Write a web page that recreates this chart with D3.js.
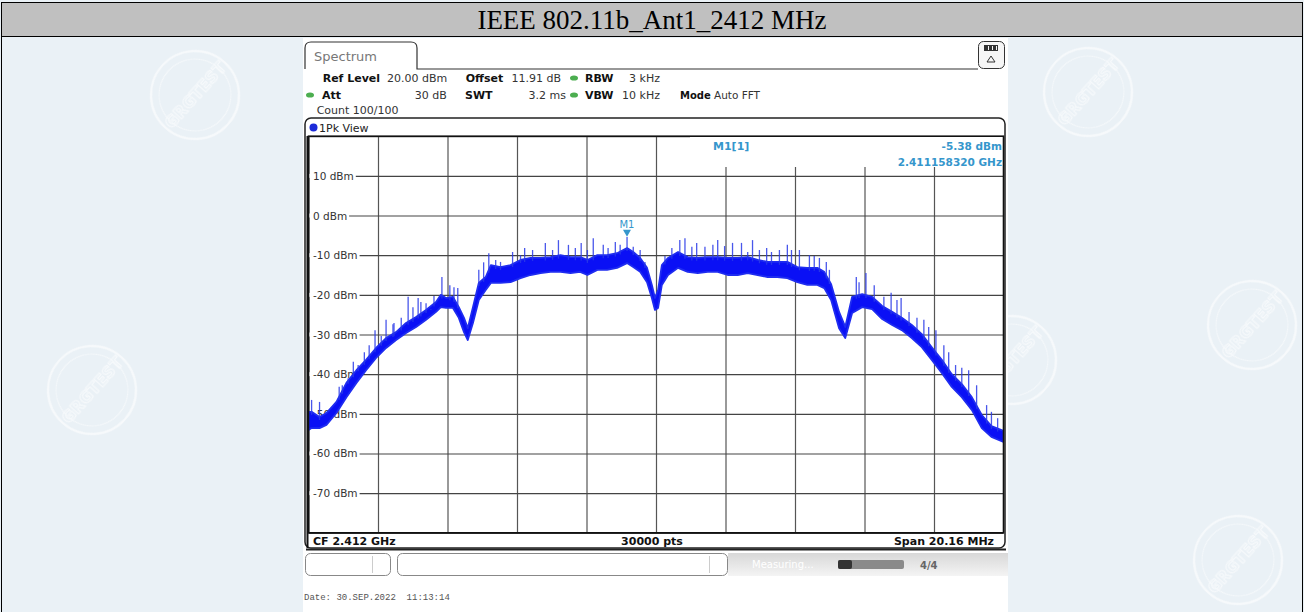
<!DOCTYPE html>
<html>
<head>
<meta charset="utf-8">
<script src="https://cdn.jsdelivr.net/npm/d3@7"></script>
<style>
html, body { margin: 0; padding: 0; background: #eaf1f6; }
svg { display: block; }
</style>
</head>
<body>
<svg id="chart" width="1304" height="612"></svg>
<script>
var title = "IEEE 802.11b_Ant1_2412 MHz";

// trace envelope (offset from CF in MHz, dBm)
var freqMHz = [-10.08,-9.99,-9.76,-9.56,-9.27,-8.98,-8.69,-8.41,-8.12,-7.83,
  -7.54,-7.25,-6.96,-6.67,-6.38,-6.24,-6.09,-5.89,-5.72,-5.57,
  -5.46,-5.31,-5.14,-4.94,-4.79,-4.51,-4.22,-3.93,-3.64,-3.35,
  -3.06,-2.77,-2.48,-2.20,-1.99,-1.70,-1.42,-1.13,-0.84,-0.66,
  -0.46,-0.26,-0.12,-0.03,0.06,0.17,0.35,0.64,0.92,1.21,
  1.50,1.79,2.08,2.37,2.66,2.95,3.24,3.52,3.81,4.10,
  4.39,4.68,4.88,5.08,5.31,5.49,5.69,5.98,6.27,6.56,
  6.85,7.13,7.42,7.71,8.00,8.29,8.58,8.87,9.16,9.45,
  9.73,10.08];
var traceHi = [-49.5,-49.5,-50.8,-49.8,-47.0,-42.2,-39.0,-36.4,-33.4,-30.9,
  -29.4,-27.1,-25.6,-23.8,-21.8,-20.0,-20.8,-20.5,-23.1,-25.8,
  -28.4,-23.1,-17.0,-15.5,-12.5,-13.0,-12.5,-11.2,-10.7,-10.7,
  -10.5,-10.0,-10.5,-10.5,-11.2,-10.0,-10.0,-9.5,-8.2,-9.2,
  -10.7,-13.2,-17.5,-20.8,-18.8,-12.5,-10.7,-9.2,-10.5,-10.7,
  -10.5,-10.5,-10.7,-10.7,-10.5,-11.2,-11.7,-11.7,-11.7,-13.0,
  -13.2,-13.2,-14.2,-17.3,-24.3,-28.1,-20.5,-19.8,-20.5,-22.8,
  -24.3,-25.8,-27.6,-29.9,-33.2,-36.4,-40.0,-42.5,-45.8,-50.3,
  -53.1,-54.3];
var traceLo = [-54.1,-53.6,-53.6,-52.8,-49.8,-45.8,-42.2,-39.0,-35.9,-33.4,
  -31.4,-29.6,-28.1,-26.3,-24.3,-23.1,-23.3,-23.3,-25.8,-29.4,
  -31.4,-27.1,-21.3,-18.8,-17.0,-17.0,-16.8,-15.8,-15.0,-14.5,
  -14.2,-14.2,-14.5,-14.2,-15.0,-13.7,-13.7,-13.2,-12.0,-13.0,
  -14.2,-16.8,-20.8,-23.8,-23.3,-17.5,-15.0,-13.2,-14.2,-14.5,
  -14.2,-14.2,-15.0,-15.0,-14.5,-15.0,-15.5,-15.5,-15.8,-16.8,
  -17.5,-17.5,-18.3,-21.3,-28.4,-30.9,-24.6,-23.1,-23.6,-26.1,
  -27.6,-28.9,-30.9,-33.2,-36.4,-39.7,-43.2,-45.8,-49.0,-53.6,
  -55.8,-57.1];

// noise spikes standing above the band
var spikeMHz = [-9.99,-9.76,-9.19,-8.78,-8.64,-8.15,-7.83,-7.60,-7.19,-7.05,
  -6.82,-6.53,-6.21,-5.75,-5.14,-4.85,-4.16,-3.81,-3.21,-2.83,
  -2.54,-2.17,-1.82,-1.18,-0.84,-0.66,0.84,1.18,1.79,2.22,
  2.80,3.21,3.81,4.16,4.74,4.94,5.81,6.09,6.82,7.11,
  7.77,8.12,8.69,9.07,9.73,
  -9.10,-8.93,-8.46,-8.32,-7.97,-7.63,-7.39,-6.90,-6.67,-6.44,
  -5.98,-5.86,-5.00,-4.65,-4.51,-3.93,-3.58,-3.00,-2.34,-1.99,
  -1.53,-1.39,-1.04,-0.46,-0.32,0.26,0.46,0.69,1.04,1.42,
  1.65,1.99,2.48,2.66,3.00,3.35,3.58,3.93,4.45,4.59,
  5.03,5.89,6.33,6.61,6.99,7.34,7.57,7.91,8.35,8.49,
  8.87,9.30,9.59,9.91];
var spikeDbm = [-46.5,-47.0,-43.2,-36.9,-37.7,-28.9,-26.3,-27.1,-20.5,-23.1,
  -21.8,-23.8,-15.5,-18.3,-13.7,-9.5,-9.2,-8.2,-6.9,-6.2,
  -7.4,-6.9,-5.7,-6.7,-5.4,-7.9,-5.7,-6.9,-6.2,-6.9,
  -6.2,-8.2,-7.4,-8.7,-10.7,-11.7,-15.5,-14.5,-19.5,-20.8,
  -26.3,-28.9,-37.7,-39.0,-49.5,
  -42.8,-41.0,-34.5,-32.7,-30.4,-27.4,-25.8,-20.8,-22.1,-20.3,
  -17.6,-18.1,-11.8,-11.2,-11.7,-10.0,-8.7,-8.7,-8.2,-8.7,
  -7.4,-8.2,-7.4,-8.7,-11.7,-10.2,-8.2,-6.2,-7.9,-7.9,
  -7.4,-7.7,-6.9,-9.2,-8.7,-9.2,-8.7,-8.7,-10.0,-10.2,
  -13.7,-16.8,-17.6,-20.5,-21.3,-24.3,-25.8,-28.1,-32.7,-34.5,
  -38.4,-42.8,-47.8,-51.1];

var yTicks = [10, 0, -10, -20, -30, -40, -50, -60, -70];
var markerMHz = -0.84168, markerDbm = -5.38;
var markerText = ["M1[1]", "-5.38 dBm", "2.411158320 GHz"];

var svg = d3.select("#chart");
var sans = "DejaVu Sans, Verdana, sans-serif";

// page / table, faint stamps in the background
var stamps = [[195, 95], [1088, 92], [1252, 325], [92, 390], [1012, 360], [1238, 560]];
var wm = svg.append("g").attr("opacity", 0.6);
stamps.forEach(function (p) {
  var g = wm.append("g").attr("transform", "translate(" + p[0] + "," + p[1] + ") rotate(-48)");
  g.append("circle").attr("r", 44).attr("fill", "none").attr("stroke", "#ffffff").attr("stroke-width", 2.2);
  g.append("circle").attr("r", 36).attr("fill", "none").attr("stroke", "#ffffff").attr("stroke-width", 1);
  g.append("text").attr("text-anchor", "middle").attr("y", 6).attr("font-family", sans)
    .attr("font-weight", "bold").attr("font-size", 16).attr("fill", "none")
    .attr("stroke", "#ffffff").attr("stroke-width", 1.2).text("GRGTEST");
});

svg.append("rect").attr("x", 1.5).attr("y", 2.5).attr("width", 1301).attr("height", 34)
  .attr("fill", "#c0c0c0").attr("stroke", "#000");
svg.append("line").attr("x1", 1.5).attr("x2", 1.5).attr("y1", 2).attr("y2", 612).attr("stroke", "#000");
svg.append("line").attr("x1", 1302.5).attr("x2", 1302.5).attr("y1", 2).attr("y2", 612).attr("stroke", "#000");
svg.append("text").attr("x", 652).attr("y", 29).attr("text-anchor", "middle")
  .attr("font-family", "Liberation Serif, Times New Roman, serif").attr("font-size", 27)
  .attr("fill", "#000").text(title);

// screen shot
var scr = svg.append("g");
scr.append("rect").attr("x", 303).attr("y", 38).attr("width", 705).attr("height", 574).attr("fill", "#fff");

scr.append("path").attr("d", "M305,69 V48 Q305,42 311,42 H411 Q417,42 417,48 V69 H978")
  .attr("fill", "none").attr("stroke", "#333").attr("stroke-width", 1.2);
scr.append("text").attr("x", 314).attr("y", 61).attr("font-family", sans).attr("font-size", 13)
  .attr("fill", "#777").text("Spectrum");
scr.append("rect").attr("x", 978.5).attr("y", 41.5).attr("width", 26).attr("height", 27).attr("rx", 5)
  .attr("fill", "#f6f6f6").attr("stroke", "#333");
[985, 989, 993].forEach(function (bx) {
  scr.append("rect").attr("x", bx).attr("y", 46).attr("width", 3).attr("height", 4).attr("fill", "#333");
});
scr.append("rect").attr("x", 984.5).attr("y", 45.5).attr("width", 13).attr("height", 5).attr("fill", "none").attr("stroke", "#333");
scr.append("path").attr("d", "M991,56 L995,62 L987,62 Z").attr("fill", "none").attr("stroke", "#333");

var hdr = [
  [322.7, 82, "Ref Level", "bold", "start", 11], [387, 82, "20.00 dBm", "normal", "start", 11],
  [465.7, 82, "Offset", "bold", "start", 11], [561, 82, "11.91 dB", "normal", "end", 11],
  [585, 82, "RBW", "bold", "start", 11], [660, 82, "3 kHz", "normal", "end", 11],
  [322, 99, "Att", "bold", "start", 11], [446.7, 99, "30 dB", "normal", "end", 11],
  [465, 99, "SWT", "bold", "start", 11], [566, 99, "3.2 ms", "normal", "end", 11],
  [585, 99, "VBW", "bold", "start", 11], [660, 99, "10 kHz", "normal", "end", 11],
  [680, 99, "Mode", "bold", "start", 10], [714, 99, "Auto FFT", "normal", "start", 10.5],
  [316.7, 114, "Count 100/100", "normal", "start", 11]
];
hdr.forEach(function (h) {
  scr.append("text").attr("x", h[0]).attr("y", h[1]).attr("font-family", sans).attr("font-size", h[5])
    .attr("font-weight", h[3]).attr("text-anchor", h[4]).attr("fill", h[3] == "bold" ? "#111" : "#333").text(h[2]);
});
[[574, 78], [310, 95], [574, 95]].forEach(function (p) {
  scr.append("ellipse").attr("cx", p[0]).attr("cy", p[1]).attr("rx", 4).attr("ry", 2.6).attr("fill", "#4cae50");
});

// panel
scr.append("rect").attr("x", 305).attr("y", 118).attr("width", 700).attr("height", 430).attr("rx", 6)
  .attr("fill", "#fff").attr("stroke", "#222").attr("stroke-width", 1.5);
scr.append("line").attr("x1", 306).attr("x2", 1006).attr("y1", 549.5).attr("y2", 549.5).attr("stroke", "#222").attr("stroke-width", 2);
scr.append("circle").attr("cx", 313.5).attr("cy", 127.5).attr("r", 4).attr("fill", "#1c2bd8");
scr.append("text").attr("x", 319).attr("y", 131.5).attr("font-family", sans).attr("font-size", 11)
  .attr("fill", "#222").text("1Pk View");

var x = d3.scaleLinear().domain([-10.08, 10.08]).range([308.5, 1003.5]);
var y = d3.scaleLinear().domain([-80, 20]).range([532.8, 136.2]);

var xDiv = d3.range(11).map(function (i) { return -10.08 + i * 2.016; });
var yDiv = d3.range(-80, 21, 10);

scr.append("g").attr("transform", "translate(0,532.8)")
  .call(d3.axisBottom(x).tickValues(xDiv).tickSize(-396.6).tickFormat(""))
  .call(function (g) {
    g.select(".domain").remove();
    g.selectAll("line").attr("stroke", "#555").attr("stroke-width", 1.2);
  });
scr.append("g").attr("transform", "translate(308.5,0)")
  .call(d3.axisRight(y).tickValues(yDiv).tickSize(695).tickFormat(""))
  .call(function (g) {
    g.select(".domain").remove();
    g.selectAll("line").attr("stroke", "#444").attr("stroke-width", 1.2);
  });

// y labels sit on the grid lines, with the line starting after the text
var lab = scr.append("g");
yTicks.forEach(function (v) {
  var t = lab.append("text").attr("x", 313).attr("y", y(v) + 4).attr("font-family", sans)
    .attr("font-size", 10.5).attr("fill", "#333").text(v + " dBm");
  var w = t.node().getComputedTextLength();
  lab.insert("rect", "text").attr("x", 309).attr("y", y(v) - 2).attr("width", w + 6).attr("height", 4).attr("fill", "#fff");
});

// marker info box
scr.append("rect").attr("x", 690).attr("y", 137).attr("width", 313).attr("height", 30).attr("fill", "#fff");
var mk = "#3596cc";
scr.append("text").attr("x", 713).attr("y", 150).attr("font-family", sans).attr("font-size", 11)
  .attr("font-weight", "bold").attr("fill", mk).text(markerText[0]);
scr.append("text").attr("x", 1002).attr("y", 150).attr("text-anchor", "end").attr("font-family", sans)
  .attr("font-size", 10.5).attr("font-weight", "bold").attr("fill", mk).text(markerText[1]);
scr.append("text").attr("x", 1002).attr("y", 165.5).attr("text-anchor", "end").attr("font-family", sans)
  .attr("font-size", 10.5).attr("font-weight", "bold").attr("fill", mk).text(markerText[2]);

// trace
svg.append("clipPath").attr("id", "clip").append("rect")
  .attr("x", 308.5).attr("y", 136.2).attr("width", 695).attr("height", 396.6);
var tr = scr.append("g").attr("clip-path", "url(#clip)");
var idx = d3.range(freqMHz.length);
var band = d3.area()
  .x(function (i) { return x(freqMHz[i]); })
  .y0(function (i) { return y(traceLo[i]); })
  .y1(function (i) { return y(traceHi[i]); });
tr.append("path").attr("d", band(idx)).attr("fill", "#0a10f5").attr("stroke", "#1f2cf0")
  .attr("stroke-width", 1.8).attr("stroke-linejoin", "round");

var hiAt = d3.scaleLinear().domain(freqMHz).range(traceHi);
tr.selectAll("line.spike").data(spikeMHz).enter().append("line")
  .attr("class", "spike")
  .attr("x1", function (d) { return x(d); })
  .attr("x2", function (d) { return x(d); })
  .attr("y1", function (d) { return y(hiAt(d)) + 3; })
  .attr("y2", function (d, i) { return y(spikeDbm[i]); })
  .attr("stroke", "#2a3ae8").attr("stroke-width", 1.3).attr("opacity", 0.85);

// marker M1
var mx = x(markerMHz), my = y(markerDbm);
scr.append("path").attr("d", "M" + mx + "," + my + " l-4,-7 h8 Z").attr("fill", mk);
scr.append("text").attr("x", mx).attr("y", my - 9).attr("text-anchor", "middle").attr("font-family", sans)
  .attr("font-size", 10).attr("fill", mk).text("M1");

// plot frame
scr.append("rect").attr("x", 308.5).attr("y", 136.2).attr("width", 695).attr("height", 396.6)
  .attr("fill", "none").attr("stroke", "#111").attr("stroke-width", 1.6);
scr.append("line").attr("x1", 307.5).attr("x2", 307.5).attr("y1", 136).attr("y2", 548).attr("stroke", "#111").attr("stroke-width", 2);

// footer
[[313, "CF 2.412 GHz", "start"], [652, "30000 pts", "middle"], [994, "Span 20.16 MHz", "end"]].forEach(function (f) {
  scr.append("text").attr("x", f[0]).attr("y", 545).attr("text-anchor", f[2]).attr("font-family", sans)
    .attr("font-size", 11).attr("font-weight", "bold").attr("fill", "#111").text(f[1]);
});

// status bar
var grad = svg.append("defs").append("linearGradient").attr("id", "sb").attr("x1", 0).attr("x2", 0).attr("y1", 0).attr("y2", 1);
grad.append("stop").attr("offset", "0%").attr("stop-color", "#d8d8d8");
grad.append("stop").attr("offset", "100%").attr("stop-color", "#f4f4f4");
scr.append("rect").attr("x", 728).attr("y", 553).attr("width", 280).attr("height", 23).attr("fill", "url(#sb)");
scr.append("text").attr("x", 752).attr("y", 568).attr("font-family", sans).attr("font-size", 10)
  .attr("fill", "#fff").text("Measuring...");
scr.append("rect").attr("x", 838).attr("y", 560).attr("width", 66).attr("height", 9).attr("rx", 2).attr("fill", "#8a8a8a");
scr.append("rect").attr("x", 838).attr("y", 560).attr("width", 14).attr("height", 9).attr("rx", 2).attr("fill", "#333");
scr.append("text").attr("x", 920).attr("y", 569).attr("font-family", sans).attr("font-size", 10)
  .attr("font-weight", "bold").attr("fill", "#666").text("4/4");
scr.append("rect").attr("x", 305.5).attr("y", 553.5).attr("width", 85).attr("height", 22).attr("rx", 5)
  .attr("fill", "#fff").attr("stroke", "#888");
scr.append("line").attr("x1", 372.5).attr("x2", 372.5).attr("y1", 556).attr("y2", 573).attr("stroke", "#ccc");
scr.append("rect").attr("x", 397.5).attr("y", 553.5).attr("width", 330).attr("height", 22).attr("rx", 5)
  .attr("fill", "#fff").attr("stroke", "#888");
scr.append("line").attr("x1", 709.5).attr("x2", 709.5).attr("y1", 556).attr("y2", 573).attr("stroke", "#ccc");

scr.append("text").attr("x", 304).attr("y", 600).attr("font-family", "Liberation Mono, Courier New, monospace")
  .attr("font-size", 9).attr("fill", "#555").attr("xml:space", "preserve").text("Date: 30.SEP.2022  11:13:14");
</script>
</body>
</html>
